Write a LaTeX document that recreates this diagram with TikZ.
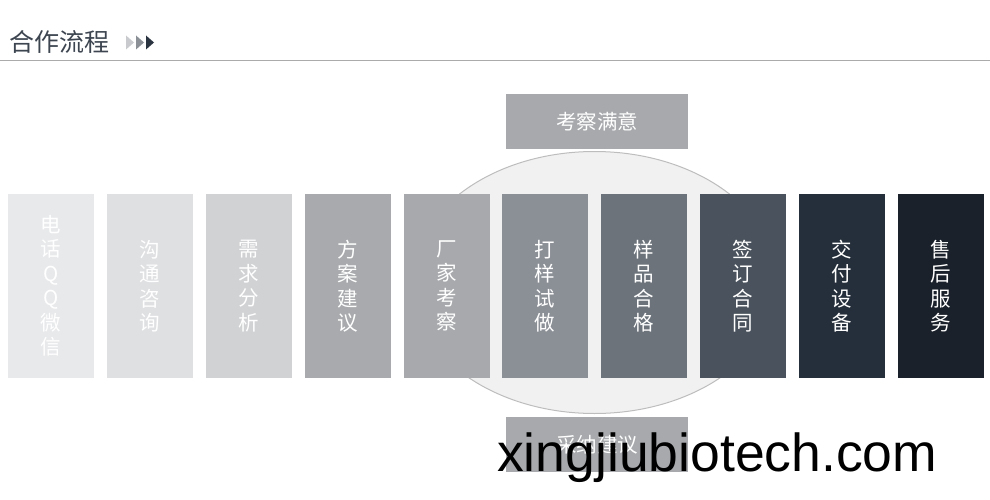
\documentclass[tikz,border=0pt]{standalone}
\usepackage{fontspec}
\newfontfamily\cjk{Noto Sans CJK SC}
\newfontfamily\webfont{Liberation Sans}
\definecolor{stepA}{HTML}{E8E9EB}
\definecolor{stepB}{HTML}{DFE0E2}
\definecolor{stepC}{HTML}{D1D2D4}
\definecolor{stepD}{HTML}{A8AAAD}
\definecolor{stepE}{HTML}{A7A9AC}
\definecolor{stepF}{HTML}{8B8F96}
\definecolor{stepG}{HTML}{6C737B}
\definecolor{stepH}{HTML}{4A535D}
\definecolor{stepI}{HTML}{252F3B}
\definecolor{stepJ}{HTML}{1B212A}
\definecolor{headgray}{HTML}{3D4550}
\definecolor{arrowA}{HTML}{C8CACD}
\definecolor{arrowB}{HTML}{8B9097}
\definecolor{arrowC}{HTML}{2A3440}
\begin{document}
\begin{tikzpicture}[x=1pt,y=-1pt,line join=round,line cap=round]
			\tikzset{stagebox/.style={minimum width=86pt,minimum height=184pt,inner sep=0pt,text=white,align=center,font=\cjk\fontsize{20.5}{24.5}\selectfont},
				sidebox/.style={fill=stepE,minimum width=182pt,minimum height=55pt,inner sep=0pt,text=white,font=\cjk\fontsize{20.5}{24.5}\selectfont}}
			\useasboundingbox (0,0) rectangle (990,500);
			\node[anchor=west,text=headgray,inner sep=0pt,font=\cjk\fontsize{25}{28}\selectfont] (title) at (9,42) {合作流程};
			\fill[color=arrowA] (126,35.5)--(134,42.5)--(126,49.5)--cycle;
			\fill[color=arrowB] (136,35.5)--(144,42.5)--(136,49.5)--cycle;
			\fill[color=arrowC] (146,35.5)--(154,42.5)--(146,49.5)--cycle;
			\draw[color=black!33,line width=1pt] (0,61)--(990,61);
			\draw[fill=black!5.5,draw=black!26,line width=1pt] (594.5,282.5) ellipse (183 and 131);
			\node[sidebox] (visit) at (597,121.5) {考察满意};
			\node[sidebox] (advice) at (597,444.5) {采纳建议};
			\node[stagebox,fill=stepA] (s1) at (51,286) {电\\话\\Q\\Q\\微\\信};
			\node[stagebox,fill=stepB] (s2) at (150,286) {沟\\通\\咨\\询};
			\node[stagebox,fill=stepC] (s3) at (249,286) {需\\求\\分\\析};
			\node[stagebox,fill=stepD] (s4) at (348,286) {方\\案\\建\\议};
			\node[stagebox,fill=stepE] (s5) at (447,286) {厂\\家\\考\\察};
			\node[stagebox,fill=stepF] (s6) at (545,286) {打\\样\\试\\做};
			\node[stagebox,fill=stepG] (s7) at (644,286) {样\\品\\合\\格};
			\node[stagebox,fill=stepH] (s8) at (743,286) {签\\订\\合\\同};
			\node[stagebox,fill=stepI] (s9) at (842,286) {交\\付\\设\\备};
			\node[stagebox,fill=stepJ] (s10) at (941,286) {售\\后\\服\\务};
			\node[anchor=base west,inner sep=0pt,font=\webfont\fontsize{53.5}{60}\selectfont] (site) at (497,471) {xingjiubiotech.com};
		\end{tikzpicture}
\end{document}
